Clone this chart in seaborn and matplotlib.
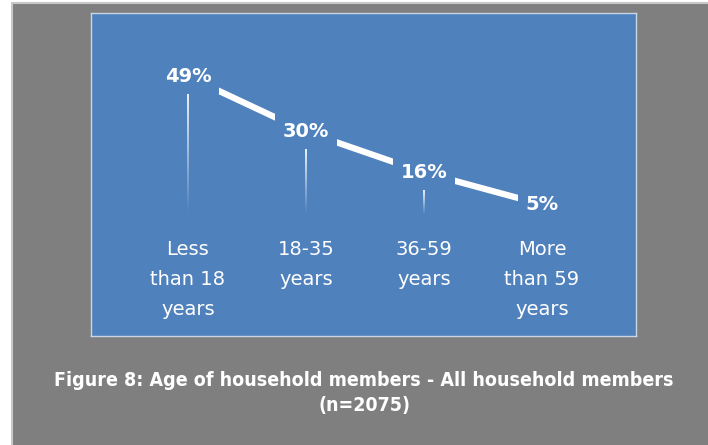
import numpy as np
import pandas as pd
import seaborn as sns
import matplotlib
import matplotlib.pyplot as plt
from matplotlib.collections import LineCollection
from matplotlib.patches import Rectangle

categories = ["Less\nthan 18\nyears", "18-35\nyears", "36-59\nyears", "More\nthan 59\nyears"]
shares = [49, 30, 16, 5]
point_labels = ["49%", "30%", "16%", "5%"]
title = "Figure 8: Age of household members - All household members\n(n=2075)"

blue = '#4f81bd'
grey = '#7f7f7f'

sns.set_style('white')
matplotlib.rcParams['font.family'] = ['DejaVu Sans']

df = pd.DataFrame({'pos': np.arange(len(shares)), 'share': shares})

fig = plt.figure(figsize=(7.08, 4.45), dpi=100)
fig.patch.set_facecolor('white')

# grey card behind the chart
fig.patches.append(Rectangle((12 / 708, -0.01), 1, 1 - 3 / 445 + 0.01, transform=fig.transFigure,
                             facecolor=grey, edgecolor='#c8c8c8', linewidth=1.5, zorder=-5))

ax = fig.add_axes([91 / 708, 109 / 445, 545 / 708, 323 / 445])
ax.set_facecolor(blue)
for s in ax.spines.values():
    s.set_color('#c9d6e6')
    s.set_linewidth(1)

sns.lineplot(data=df, x='pos', y='share', color='white', linewidth=4.5, ax=ax,
             solid_capstyle='butt', zorder=3)

# drop lines fading out towards the axis
for x, v in zip(df['pos'], shares):
    top, bottom = v - 6, 1.5
    if top <= bottom:
        continue
    ys = np.linspace(top, bottom, 40)
    segs = [[(x, ys[i]), (x, ys[i + 1])] for i in range(len(ys) - 1)]
    alphas = np.linspace(0.9, 0.0, len(segs))
    cols = [(1, 1, 1, a) for a in alphas]
    ax.add_collection(LineCollection(segs, colors=cols, linewidths=1.4, zorder=2))

for x, v, lab in zip(df['pos'], shares, point_labels):
    ax.text(x, v, lab, ha='center', va='center', color='white', fontsize=14,
            fontweight='bold', zorder=4,
            bbox=dict(boxstyle='square,pad=0.4', facecolor=blue, edgecolor='none'))

for x, cat in zip(df['pos'], categories):
    ax.text(x, -7.2, cat, ha='center', va='top', color='white', fontsize=14,
            linespacing=1.74, multialignment='center')

ax.set_xlim(-0.822, 3.797)
ax.set_ylim(-40.2, 70.8)
ax.set_xticks([])
ax.set_yticks([])
ax.set_xlabel('')
ax.set_ylabel('')

fig.text(364 / 708, 1 - 393 / 445, title, ha='center', va='center', color='white',
         fontsize=14, fontweight='bold', linespacing=1.37, stretch='condensed',
         family=['DejaVu Sans'])

fig.savefig('out.png', dpi=100, facecolor=fig.get_facecolor())
